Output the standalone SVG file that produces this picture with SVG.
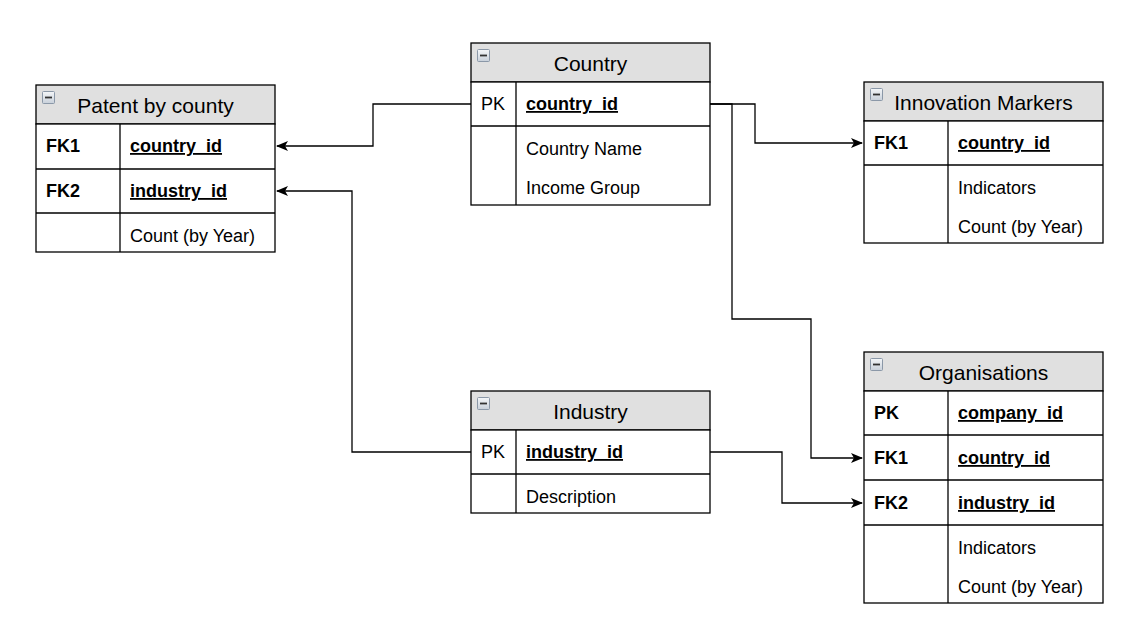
<svg xmlns="http://www.w3.org/2000/svg" width="1132" height="635" viewBox="0 0 1132 635">
<defs>
<style>
.box{fill:#ffffff;stroke:#000;stroke-width:1.3}
.hdr{fill:#e0e0e0;stroke:#000;stroke-width:1.3}
.ln{stroke:#000;stroke-width:1.3;fill:none}
.t{font-family:"Liberation Sans",Arial,sans-serif;font-size:21px;fill:#000;text-anchor:middle}
.k{font-family:"Liberation Sans",Arial,sans-serif;font-size:18px;fill:#000;font-weight:bold}
.kn{font-family:"Liberation Sans",Arial,sans-serif;font-size:18px;fill:#000}
.f{font-family:"Liberation Sans",Arial,sans-serif;font-size:18px;fill:#000;font-weight:bold;text-decoration:underline}
.d{font-family:"Liberation Sans",Arial,sans-serif;font-size:18px;fill:#000}
.c{fill:none;stroke:#000;stroke-width:1.3}
</style>
<linearGradient id="ig" x1="0" y1="0" x2="0" y2="1"><stop offset="0" stop-color="#f4f6f8"/><stop offset="1" stop-color="#c8d0da"/></linearGradient>
<g id="icon"><rect x="0.5" y="0.5" width="12" height="12" fill="url(#ig)" stroke="#8b98a8" stroke-width="1" rx="1"/><line x1="3" y1="6.5" x2="10" y2="6.5" stroke="#333" stroke-width="1.8"/></g>
<marker id="arr" markerWidth="12" markerHeight="10" refX="11" refY="5" orient="auto" markerUnits="userSpaceOnUse"><path d="M0,0 L12,5 L0,10 L3,5 Z" fill="#000"/></marker>
</defs>
<rect width="1132" height="635" fill="#fff"/>

<g id="connectors">
<path class="c" d="M471,104 H373 V146 H277" marker-end="url(#arr)"/>
<path class="c" d="M471,452 H352 V191 H277" marker-end="url(#arr)"/>
<path class="c" d="M710,104 H755 V143 H862" marker-end="url(#arr)"/>
<path class="c" d="M710,104 H732 V319 H811 V458 H862" marker-end="url(#arr)"/>
<path class="c" d="M710,452 H782 V503 H862" marker-end="url(#arr)"/>
</g>

<g id="patent">
<rect class="hdr" x="36" y="85" width="239" height="39"/>
<rect class="box" x="36" y="124" width="239" height="128"/>
<line class="ln" x1="36" y1="169" x2="275" y2="169"/>
<line class="ln" x1="36" y1="213" x2="275" y2="213"/>
<line class="ln" x1="120" y1="124" x2="120" y2="252"/>
<use href="#icon" x="42" y="91"/>
<text class="t" x="155.5" y="113">Patent by county</text>
<text class="k" x="46" y="152">FK1</text>
<text class="f" x="130" y="152">country_id</text>
<text class="k" x="46" y="197">FK2</text>
<text class="f" x="130" y="197">industry_id</text>
<text class="d" x="130" y="242">Count (by Year)</text>
</g>

<g id="country">
<rect class="hdr" x="471" y="43" width="239" height="39"/>
<rect class="box" x="471" y="82" width="239" height="123"/>
<line class="ln" x1="471" y1="126" x2="710" y2="126"/>
<line class="ln" x1="516" y1="82" x2="516" y2="205"/>
<use href="#icon" x="477" y="49"/>
<text class="t" x="590.5" y="71">Country</text>
<text class="kn" x="481" y="110">PK</text>
<text class="f" x="526" y="110">country_id</text>
<text class="d" x="526" y="155">Country Name</text>
<text class="d" x="526" y="194">Income Group</text>
</g>

<g id="innovation">
<rect class="hdr" x="864" y="82" width="239" height="39"/>
<rect class="box" x="864" y="121" width="239" height="122"/>
<line class="ln" x1="864" y1="165" x2="1103" y2="165"/>
<line class="ln" x1="948" y1="121" x2="948" y2="243"/>
<use href="#icon" x="870" y="88"/>
<text class="t" x="983.5" y="110">Innovation Markers</text>
<text class="k" x="874" y="149">FK1</text>
<text class="f" x="958" y="149">country_id</text>
<text class="d" x="958" y="194">Indicators</text>
<text class="d" x="958" y="233">Count (by Year)</text>
</g>

<g id="organisations">
<rect class="hdr" x="864" y="352" width="239" height="39"/>
<rect class="box" x="864" y="391" width="239" height="212"/>
<line class="ln" x1="864" y1="435" x2="1103" y2="435"/>
<line class="ln" x1="864" y1="480" x2="1103" y2="480"/>
<line class="ln" x1="864" y1="525" x2="1103" y2="525"/>
<line class="ln" x1="948" y1="391" x2="948" y2="603"/>
<use href="#icon" x="870" y="358"/>
<text class="t" x="983.5" y="380">Organisations</text>
<text class="k" x="874" y="419">PK</text>
<text class="f" x="958" y="419">company_id</text>
<text class="k" x="874" y="464">FK1</text>
<text class="f" x="958" y="464">country_id</text>
<text class="k" x="874" y="509">FK2</text>
<text class="f" x="958" y="509">industry_id</text>
<text class="d" x="958" y="554">Indicators</text>
<text class="d" x="958" y="593">Count (by Year)</text>
</g>

<g id="industry">
<rect class="hdr" x="471" y="391" width="239" height="39"/>
<rect class="box" x="471" y="430" width="239" height="83"/>
<line class="ln" x1="471" y1="474" x2="710" y2="474"/>
<line class="ln" x1="516" y1="430" x2="516" y2="513"/>
<use href="#icon" x="477" y="397"/>
<text class="t" x="590.5" y="419">Industry</text>
<text class="kn" x="481" y="458">PK</text>
<text class="f" x="526" y="458">industry_id</text>
<text class="d" x="526" y="503">Description</text>
</g>
</svg>
